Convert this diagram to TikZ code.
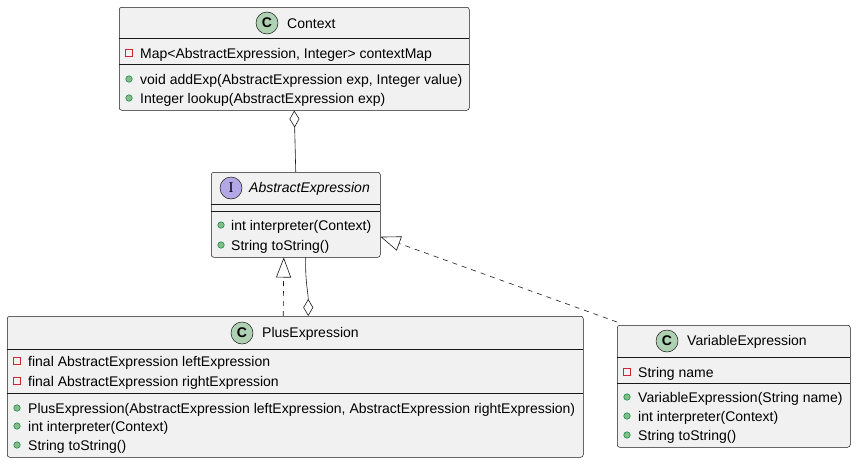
\documentclass[tikz,border=0pt]{standalone}
\usepackage{fontspec}
\setmainfont{Liberation Sans}
\newfontfamily\iconserif{Liberation Serif}
\usetikzlibrary{arrows.meta}
\definecolor{boxfill}{HTML}{F1F1F1}
\definecolor{boxline}{HTML}{181818}
\definecolor{cfill}{HTML}{ADD1B2}
\definecolor{ifill}{HTML}{B4A7E5}
\definecolor{privred}{HTML}{C82930}
\definecolor{pubfill}{HTML}{84BE84}
\definecolor{publine}{HTML}{038048}
\tikzset{
  classbox/.style={draw=boxline, fill=boxfill, rounded corners=2.5pt, line width=0.5pt, inner sep=0, anchor=north west},
  sep/.style={draw=boxline, line width=0.5pt},
  member/.style={anchor=west, inner sep=0, yshift=-1.5pt, font=\fontsize{14}{16}\selectfont},
  title/.style={anchor=west, inner sep=0, yshift=-1pt, font=\fontsize{14}{16}\selectfont},
  cicon/.style={circle, draw=boxline, fill=cfill, minimum size=22pt, inner sep=0, line width=0.5pt, font=\fontsize{14}{16}\selectfont\bfseries},
  iicon/.style={circle, draw=boxline, fill=ifill, minimum size=22pt, inner sep=0, line width=0.5pt, font=\fontsize{15}{16}\selectfont\iconserif},
  privicon/.style={draw=privred, line width=0.6pt, minimum size=7pt, inner sep=0, rectangle},
  pubicon/.style={circle, draw=publine, fill=pubfill, line width=0.5pt, minimum size=6.5pt, inner sep=0},
  conn/.style={draw=boxline, line width=0.6pt},
  realize/.style={conn, dashed, dash pattern=on 5pt off 5pt, -{Triangle[open, length=20pt, width=15pt, fill=white]}},
  aggr/.style={conn, {Diamond[open, length=17pt, width=10pt, fill=white]}-},
}
\begin{document}
\begin{tikzpicture}[x=1pt, y=-1pt]
\useasboundingbox (0,0) rectangle (856,463);

% Context
\node[classbox, minimum width=350pt, minimum height=103pt] (ctx) at (119,7) {};
\draw[sep] (119,38.5) -- (469,38.5);
\draw[sep] (119,64.5) -- (469,64.5);
\node[cicon] (ctxi) at (267,23) {C};
\node[title] (ctxt) at (287,23) {Context};
\node[privicon] (ctxp1) at (129,53) {};
\node[member] (ctxf1) at (140,53) {Map<AbstractExpression, Integer> contextMap};
\node[pubicon] (ctxm1i) at (129,79) {};
\node[member] (ctxm1) at (140,79) {void addExp(AbstractExpression exp, Integer value)};
\node[pubicon] (ctxm2i) at (129,98) {};
\node[member] (ctxm2) at (140,98) {Integer lookup(AbstractExpression exp)};

% AbstractExpression
\node[classbox, minimum width=169pt, minimum height=85pt] (abs) at (211,172) {};
\draw[sep] (211,204) -- (380,204);
\draw[sep] (211,211) -- (380,211);
\node[iicon] (absi) at (231,188) {I};
\node[title, font=\fontsize{14}{16}\selectfont\itshape] (abst) at (249,188) {AbstractExpression};
\node[pubicon] (absm1i) at (221,225) {};
\node[member] (absm1) at (231,225) {int interpreter(Context)};
\node[pubicon] (absm2i) at (221,245) {};
\node[member] (absm2) at (231,245) {String toString()};

% PlusExpression
\node[classbox, minimum width=576pt, minimum height=141pt] (plus) at (7,316) {};
\draw[sep] (7,349) -- (583,349);
\draw[sep] (7,393) -- (583,393);
\node[cicon] (plusi) at (242,333) {C};
\node[title] (plust) at (262,333) {PlusExpression};
\node[privicon] (plusp1) at (17,361) {};
\node[member] (plusf1) at (28,361) {final AbstractExpression leftExpression};
\node[privicon] (plusp2) at (17,381) {};
\node[member] (plusf2) at (28,381) {final AbstractExpression rightExpression};
\node[pubicon] (plusm1i) at (17,408) {};
\node[member] (plusm1) at (28,408) {PlusExpression(AbstractExpression leftExpression, AbstractExpression rightExpression)};
\node[pubicon] (plusm2i) at (17,426) {};
\node[member] (plusm2) at (28,426) {int interpreter(Context)};
\node[pubicon] (plusm3i) at (17,445) {};
\node[member] (plusm3) at (28,445) {String toString()};

% VariableExpression
\node[classbox, minimum width=233pt, minimum height=122pt] (var) at (617,325) {};
\draw[sep] (617,357) -- (850,357);
\draw[sep] (617,383) -- (850,383);
\node[cicon] (vari) at (667,341) {C};
\node[title] (vart) at (687,341) {VariableExpression};
\node[privicon] (varp1) at (627,372) {};
\node[member] (varf1) at (638,372) {String name};
\node[pubicon] (varm1i) at (627,397) {};
\node[member] (varm1) at (638,397) {VariableExpression(String name)};
\node[pubicon] (varm2i) at (627,416) {};
\node[member] (varm2) at (638,416) {int interpreter(Context)};
\node[pubicon] (varm3i) at (627,435) {};
\node[member] (varm3) at (638,435) {String toString()};

% connectors
\draw[aggr] (ctx.south) -- (abs.north);
\draw[realize] ([xshift=-12pt]plus.north) -- ([xshift=-12pt]abs.south);
\draw[conn, -{Diamond[open, length=17pt, width=10pt, fill=white]}] ([xshift=10pt]abs.south) to[out=-92, in=90] ([xshift=13pt]plus.north);
\draw[realize] ([yshift=3pt]var.north west) -- ([yshift=-22pt]abs.east);
\end{tikzpicture}
\end{document}
